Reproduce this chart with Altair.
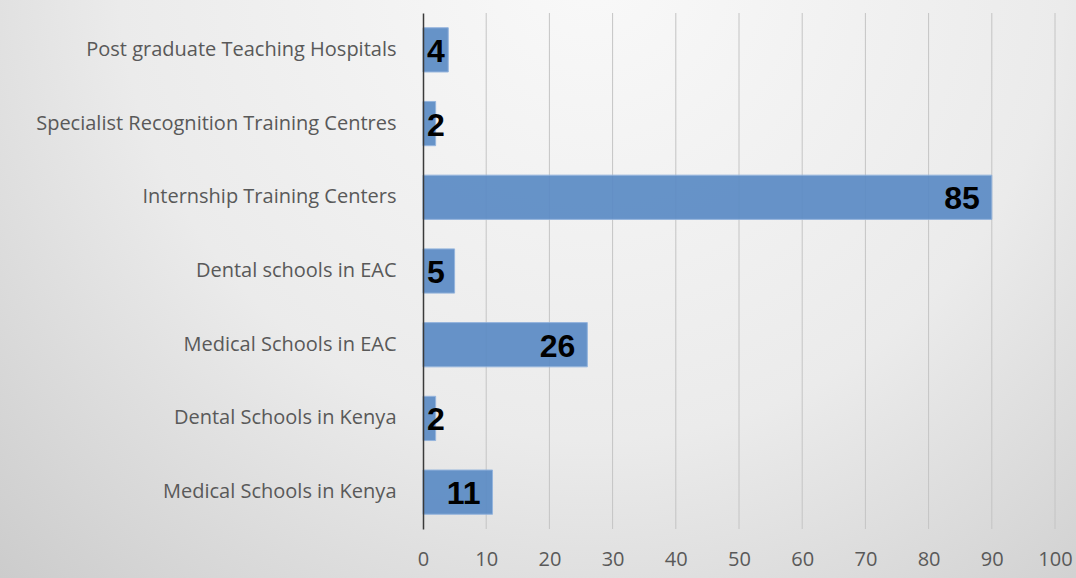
import altair as alt
import pandas as pd

categories = [
    "Post graduate Teaching Hospitals",
    "Specialist  Recognition  Training Centres",
    "Internship Training Centers",
    "Dental schools in EAC",
    "Medical Schools in EAC",
    "Dental Schools in Kenya",
    "Medical Schools in Kenya",
]
bar_lengths = [4, 2, 90, 5, 26, 2, 11]
label_values = [4, 2, 85, 5, 26, 2, 11]
tick_values = [0, 10, 20, 30, 40, 50, 60, 70, 80, 90, 100]
grid_values = [10, 20, 30, 40, 50, 60, 70, 80, 90, 100]

W, H = 632, 516
PAD_L, PAD_T, PAD_R, PAD_B = 423, 13, 21, 49

df = pd.DataFrame({"cat": categories, "bar": bar_lengths, "lab": label_values})
grid_df = pd.DataFrame({"g": grid_values})

xscale = alt.Scale(domain=[0, 100], nice=False)
yscale = alt.Scale(domain=categories, paddingInner=0.4, paddingOuter=0.2)

bg = alt.Chart(pd.DataFrame({"a": [0]})).mark_rect(
    color=alt.RadialGradient(
        gradient="radial",
        stops=[alt.GradientStop(color="#f9f9f9", offset=0),
               alt.GradientStop(color="#ebebeb", offset=0.55),
               alt.GradientStop(color="#cbcbcb", offset=1)],
        x1=0.55, y1=0.2, r1=0, x2=0.55, y2=0.2, r2=0.8,
    ),
    clip=False,
).encode(
    x=alt.value(-PAD_L), x2=alt.value(W + PAD_R),
    y=alt.value(-PAD_T), y2=alt.value(H + PAD_B),
)

grid = alt.Chart(grid_df).mark_rule(color="#c4c4c4", strokeWidth=1).encode(
    x=alt.X("g:Q", scale=xscale),
    y=alt.value(0), y2=alt.value(H),
)

bars = alt.Chart(df).mark_bar(
    color="#5b8bc5", opacity=0.92, stroke="#8eb0dc", strokeWidth=1,
).encode(
    x=alt.X("bar:Q", scale=xscale,
            axis=alt.Axis(values=tick_values, grid=False, domain=False, ticks=False,
                          labelFont="Open Sans", labelFontSize=20, labelColor="#595959",
                          labelFlush=False, labelPadding=20, title=None, zindex=1)),
    y=alt.Y("cat:N", scale=yscale, sort=categories,
            axis=alt.Axis(domainColor="#3a3a3a", domainWidth=1.5, ticks=False,
                          labelFont="Open Sans", labelFontSize=20, labelColor="#595959",
                          labelPadding=27, labelLimit=420, title=None, zindex=1)),
)

text_big = alt.Chart(df).transform_filter("datum.bar >= 10").mark_text(
    align="right", baseline="middle", dx=-12, dy=2,
    font="Liberation Sans", fontWeight="bold", fontSize=32, color="#000000",
).encode(
    x=alt.X("bar:Q", scale=xscale),
    y=alt.Y("cat:N", scale=yscale, sort=categories),
    text=alt.Text("lab:Q"),
)

text_small = alt.Chart(df).transform_filter("datum.bar < 10").mark_text(
    align="left", baseline="middle", dx=4, dy=2,
    font="Liberation Sans", fontWeight="bold", fontSize=32, color="#000000",
).encode(
    x=alt.value(0),
    y=alt.Y("cat:N", scale=yscale, sort=categories),
    text=alt.Text("lab:Q"),
)

chart = alt.layer(bg, grid, bars, text_big, text_small).properties(
    width=W, height=H,
    autosize=alt.AutoSizeParams(type="none"),
    padding={"left": PAD_L, "top": PAD_T, "right": PAD_R, "bottom": PAD_B},
    background="#e6e6e6",
).configure_view(stroke=None)

chart.save("out.html", embed_options={"renderer": "svg", "actions": False})
